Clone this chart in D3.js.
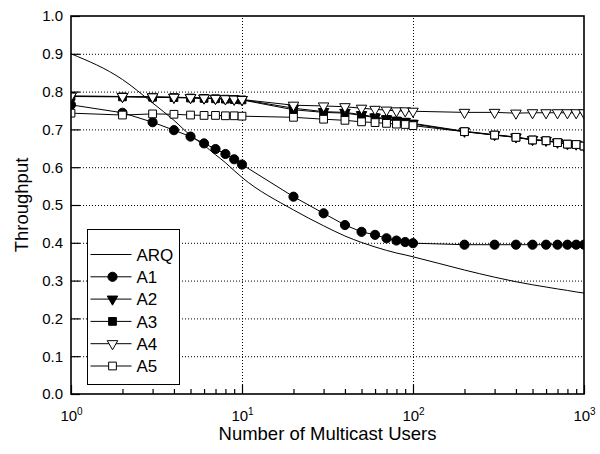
<!DOCTYPE html>
<html>
<head>
<meta charset="utf-8">
<script src="https://cdn.jsdelivr.net/npm/d3@7"></script>
<style>
  body { margin: 0; background: #fff; }
  text { font-family: Arial, "Liberation Sans", sans-serif; fill: #000; }
</style>
</head>
<body>
<svg id="throughput" width="600" height="454"></svg>
<script>
// number of multicast users (x positions of the samples)
const users = [1, 2, 3, 4, 5, 6, 7, 8, 9, 10,
    20, 30, 40, 50, 60, 70, 80, 90, 100,
    200, 300, 400, 500, 600, 700, 800, 900, 1000];

const arq = [0.900, 0.832, 0.770, 0.724, 0.684, 0.658, 0.633, 0.612, 0.591, 0.573,
    0.487, 0.445, 0.418, 0.401, 0.389, 0.380, 0.373, 0.368, 0.363,
    0.328, 0.309, 0.297, 0.289, 0.283, 0.278, 0.274, 0.270, 0.267];
const a1 = [0.765, 0.744, 0.719, 0.698, 0.681, 0.663, 0.648, 0.635, 0.621, 0.607,
    0.522, 0.478, 0.447, 0.429, 0.421, 0.412, 0.406, 0.402, 0.399,
    0.395, 0.395, 0.395, 0.395, 0.395, 0.395, 0.395, 0.395, 0.395];
const a2 = [0.788, 0.787, 0.786, 0.785, 0.784, 0.783, 0.782, 0.781, 0.780, 0.779,
    0.756, 0.747, 0.745, 0.739, 0.733, 0.728, 0.724, 0.721, 0.716,
    0.695, 0.686, 0.680, 0.673, 0.671, 0.666, 0.662, 0.661, 0.657];
const a3 = [0.787, 0.786, 0.785, 0.784, 0.783, 0.782, 0.781, 0.780, 0.779, 0.778,
    0.752, 0.745, 0.743, 0.737, 0.731, 0.726, 0.722, 0.719, 0.714,
    0.694, 0.685, 0.679, 0.672, 0.670, 0.665, 0.661, 0.660, 0.656];
const a4 = [0.788, 0.787, 0.786, 0.785, 0.784, 0.783, 0.782, 0.781, 0.780, 0.779,
    0.764, 0.762, 0.760, 0.756, 0.753, 0.751, 0.749, 0.749, 0.748,
    0.745, 0.745, 0.743, 0.744, 0.744, 0.744, 0.744, 0.744, 0.744];
const a5 = [0.743, 0.738, 0.741, 0.740, 0.738, 0.737, 0.737, 0.736, 0.736, 0.735,
    0.732, 0.727, 0.724, 0.720, 0.718, 0.716, 0.714, 0.713, 0.710,
    0.694, 0.685, 0.679, 0.672, 0.670, 0.665, 0.661, 0.660, 0.656];

const seriesNames = ["ARQ", "A1", "A2", "A3", "A4", "A5"];
const xMajorTicks = [1, 10, 100, 1000];
const xMinorTicks = [2, 3, 4, 5, 6, 7, 8, 9, 20, 30, 40, 50, 60, 70, 80, 90,
    200, 300, 400, 500, 600, 700, 800, 900];
const yTicks = [0, 0.1, 0.2, 0.3, 0.4, 0.5, 0.6, 0.7, 0.8, 0.9, 1.0];

const svg = d3.select("svg#throughput");
const width = +svg.attr("width");
const height = +svg.attr("height");
const margin = { top: 16, right: 16, bottom: 60, left: 71 };
const chartWidth = width - margin.left - margin.right;
const chartHeight = height - margin.top - margin.bottom;

const xScale = d3.scaleLog().domain([1, 1000]).range([0, chartWidth]);
const yScale = d3.scaleLinear().domain([0, 1]).range([chartHeight, 0]);

const chart = svg.append("g").attr("transform", `translate(${margin.left},${margin.top})`);

svg.append("defs").append("clipPath").attr("id", "plotclip")
    .append("rect").attr("width", chartWidth).attr("height", chartHeight);

// gridlines
let yGrid = chart.append("g").attr("class", "y gridlines")
    .call(d3.axisLeft(yScale).tickValues(yTicks.slice(1, -1)).tickSize(-chartWidth).tickFormat(""));
let xGrid = chart.append("g").attr("class", "x gridlines")
    .attr("transform", `translate(0,${chartHeight})`)
    .call(d3.axisBottom(xScale).tickValues([10, 100]).tickSize(-chartHeight).tickFormat(""));
chart.selectAll(".gridlines .domain").remove();
chart.selectAll(".gridlines line").attr("stroke", "#000").attr("stroke-width", 1)
    .attr("stroke-dasharray", "1,2");

// series
const series = [
    { name: "ARQ", values: arq, symbol: null, fill: "none" },
    { name: "A1", values: a1, symbol: d3.symbolCircle, size: 66, fill: "#000" },
    { name: "A2", values: a2, symbol: d3.symbolTriangle, size: 48, fill: "#000", rotate: 180 },
    { name: "A3", values: a3, symbol: d3.symbolSquare, size: 60, fill: "#000" },
    { name: "A4", values: a4, symbol: d3.symbolTriangle, size: 48, fill: "#fff", rotate: 180 },
    { name: "A5", values: a5, symbol: d3.symbolSquare, size: 60, fill: "#fff" }
];

const plot = chart.append("g").attr("clip-path", "url(#plotclip)");

series.forEach(s => {
    const pts = users.map((u, i) => [u, s.values[i]]);
    const line = d3.line()
        .x(d => xScale(d[0]))
        .y(d => yScale(d[1]))
        .curve(s.symbol ? d3.curveLinear : d3.curveMonotoneX);
    plot.append("path").datum(pts)
        .attr("fill", "none").attr("stroke", "#000").attr("stroke-width", 1)
        .attr("d", line);
    if (s.symbol) {
        plot.selectAll(null).data(pts).join("path")
            .attr("d", d3.symbol().type(s.symbol).size(s.size))
            .attr("transform", d => `translate(${xScale(d[0])},${yScale(d[1])}) rotate(${s.rotate || 0})`)
            .attr("fill", s.fill).attr("stroke", "#000").attr("stroke-width", 1);
    }
});

// axes
let leftAxis = d3.axisLeft(yScale).tickValues(yTicks).tickSize(-9).tickPadding(8)
    .tickFormat(d3.format(".1f"));
let leftG = chart.append("g").attr("class", "y axis").call(leftAxis);
leftG.selectAll("text").attr("font-size", 15);

let bottomAxis = d3.axisBottom(xScale).tickValues(xMajorTicks).tickSize(-9).tickPadding(16)
    .tickFormat("");
let bottomG = chart.append("g").attr("class", "x axis")
    .attr("transform", `translate(0,${chartHeight})`).call(bottomAxis);
bottomG.selectAll(".tick text").each(function (d) {
    const t = d3.select(this).attr("font-size", 15);
    t.append("tspan").text("10");
    t.append("tspan").text(Math.round(Math.log10(d))).attr("font-size", 10).attr("dy", "-0.55em");
});
let minorG = chart.append("g").attr("class", "x minor")
    .attr("transform", `translate(0,${chartHeight})`)
    .call(d3.axisBottom(xScale).tickValues(xMinorTicks).tickSize(-5).tickFormat(""));
minorG.select(".domain").remove();
chart.selectAll(".axis line, .minor line").attr("stroke", "#000").attr("stroke-width", 1.2);
chart.selectAll(".axis .domain").remove();

// frame
chart.append("rect").attr("width", chartWidth).attr("height", chartHeight)
    .attr("fill", "none").attr("stroke", "#000").attr("stroke-width", 1.6);

// axis titles
svg.append("text").attr("x", margin.left + chartWidth / 2).attr("y", 440)
    .attr("text-anchor", "middle").attr("font-size", 18.5).text("Number of Multicast Users");
svg.append("text").attr("transform", `translate(28,${margin.top + chartHeight / 2}) rotate(-90)`)
    .attr("text-anchor", "middle").attr("font-size", 18.5).text("Throughput");

// legend
const legend = svg.append("g").attr("transform", "translate(87.5,229.5)");
legend.append("rect").attr("width", 92).attr("height", 155)
    .attr("fill", "#fff").attr("stroke", "#000").attr("stroke-width", 1);
series.forEach((s, i) => {
    const cy = 25 + i * 22.3;
    legend.append("line").attr("x1", 3).attr("x2", 44).attr("y1", cy).attr("y2", cy)
        .attr("stroke", "#000").attr("stroke-width", 1);
    if (s.symbol) {
        legend.append("path")
            .attr("d", d3.symbol().type(s.symbol).size(s.size))
            .attr("transform", `translate(25,${cy}) rotate(${s.rotate || 0})`)
            .attr("fill", s.fill).attr("stroke", "#000").attr("stroke-width", 1);
    }
    legend.append("text").attr("x", 49).attr("y", cy).attr("dy", "0.36em")
        .attr("font-size", 17).text(seriesNames[i]);
});
</script>
</body>
</html>
